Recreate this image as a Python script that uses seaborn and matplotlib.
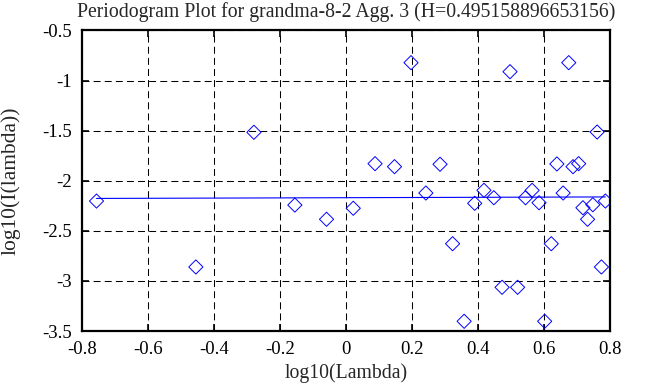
import numpy as np
import pandas as pd
import matplotlib
matplotlib.use("Agg")
import matplotlib.pyplot as plt
import seaborn as sns

# ---- data ----
log_lambda = [-0.756, -0.455, -0.279, -0.155, -0.059, 0.022, 0.088, 0.147, 0.197,
              0.242, 0.285, 0.323, 0.358, 0.390, 0.418, 0.448, 0.473, 0.497,
              0.520, 0.544, 0.564, 0.585, 0.602, 0.622, 0.639, 0.658, 0.675,
              0.688, 0.705, 0.718, 0.732, 0.748, 0.761, 0.774, 0.786]
log_I = [-2.203, -2.861, -1.517, -2.243, -2.385, -2.275, -1.830, -1.860, -0.822,
         -2.123, -1.836, -2.629, -3.403, -2.226, -2.096, -2.170, -3.064, -0.912,
         -3.064, -2.170, -2.096, -2.220, -3.403, -2.629, -1.833, -2.123, -0.822,
         -1.860, -1.830, -2.270, -2.385, -2.240, -1.514, -2.861, -2.203]
fit_x = [-0.756, 0.786]
fit_y = [-2.177, -2.162]

x_ticks = [-0.8, -0.6, -0.4, -0.2, 0, 0.2, 0.4, 0.6, 0.8]
x_tick_labels = ["-0.8", "-0.6", "-0.4", "-0.2", "0", "0.2", "0.4", "0.6", "0.8"]
y_ticks = [-3.5, -3, -2.5, -2, -1.5, -1, -0.5]
y_tick_labels = ["-3.5", "-3", "-2.5", "-2", "-1.5", "-1", "-0.5"]

title = "Periodogram Plot for grandma-8-2 Agg. 3 (H=0.495158896653156)"

sns.set_style("white")
plt.rcParams["font.family"] = ["Liberation Serif", "DejaVu Serif"]
plt.rcParams["lines.scale_dashes"] = False

fig = plt.figure(figsize=(6.58, 3.87), dpi=100)
ax = fig.add_axes([82 / 658, 1 - 331 / 387, (610 - 82) / 658, (331 - 30.4) / 387])

df = pd.DataFrame({"x": log_lambda, "y": log_I})
fit = pd.DataFrame({"x": fit_x, "y": fit_y})

sns.lineplot(data=fit, x="x", y="y", color=(0, 0, 1), linewidth=0.8, ax=ax,
             errorbar=None, zorder=3)
sns.scatterplot(data=df, x="x", y="y", marker="D", s=52, facecolors="none",
                edgecolors=(0, 0, 1), linewidths=0.7, ax=ax, zorder=4)

ax.set_xlim(-0.8, 0.8)
ax.set_ylim(-3.5, -0.5)
ax.set_xticks(x_ticks)
ax.set_xticklabels(x_tick_labels)
ax.set_yticks(y_ticks)
ax.set_yticklabels(y_tick_labels)

ax.grid(True, color="black", linestyle=(0, (5, 3)), linewidth=0.75)
ax.set_axisbelow(True)
for sp in ax.spines.values():
    sp.set_visible(True)
    sp.set_color("black")
    sp.set_linewidth(1.6)

ax.tick_params(direction="in", length=5, width=1.2, top=True, right=True,
               bottom=True, left=True, labelsize=13.5, colors="black")
ax.tick_params(axis="y", pad=7.5)
ax.tick_params(axis="x", pad=7)

ax.set_title(title, fontsize=14.2, pad=10)
ax.set_xlabel("log10(Lambda)", fontsize=14.2, labelpad=4)
ax.set_ylabel("log10(I(lambda))", fontsize=15.5, labelpad=15)

fig.savefig("out.png", dpi=100)
